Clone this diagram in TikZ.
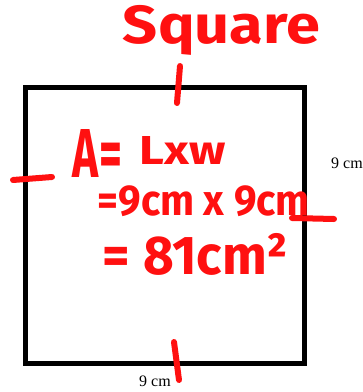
\documentclass[tikz,border=0pt]{standalone}
\usepackage{graphicx}
\usepackage{fontspec}
\setmainfont{Liberation Serif}
\newfontfamily\handfont{Fira Sans}
\usetikzlibrary{arrows.meta}
\definecolor{marker}{HTML}{FF1010}
\begin{document}
\begin{tikzpicture}[x=1pt,y=-1pt,>=Stealth,
  ink/.style={marker,line width=6pt,line cap=round},
  scrawl/.style={marker,inner sep=0pt,font=\handfont\bfseries},
  side/.style={inner sep=0pt,font=\fontsize{16}{18}\selectfont}]
\useasboundingbox (0,0) rectangle (363,392);
\draw[line width=5pt,fill=white] (25.5,87.5) rectangle (304.5,363);
% tick marks on the sides
\draw[ink] (180,66)--(177,103);
\draw[ink] (13,180)--(52,177);
\draw[ink] (292,218)--(334,219);
\draw[ink] (174,342)--(179,380);
% side lengths
\node[side] (rightlen) at (347,163) {9 cm};
\node[side] (bottomlen) at (155,381) {9 cm};
% working
\node[scrawl] (title) at (221.5,30) {\resizebox*{197pt}{50pt}{Square}};
\node[scrawl] (area) at (97.5,153) {\resizebox*{49pt}{48pt}{A=}};
\node[scrawl] (formula) at (183,150) {\resizebox*{86pt}{28pt}{Lxw}};
\node[scrawl] (product) at (204,201.5) {\resizebox*{212pt}{31pt}{=9cm x 9cm}};
\node[scrawl] (result) at (195.5,254) {\resizebox*{185pt}{42pt}{= 81cm²}};
\end{tikzpicture}
\end{document}
